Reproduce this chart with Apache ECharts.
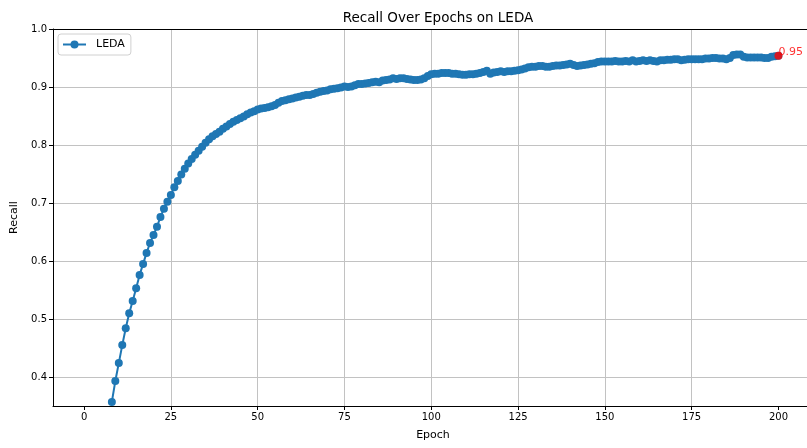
<!DOCTYPE html>
<html>
<head>
<meta charset="utf-8">
<script src="https://cdn.jsdelivr.net/npm/echarts@6/dist/echarts.min.js"></script>
<style>html,body{margin:0;padding:0;background:#fff;overflow:hidden;width:807px;height:448px;}#c{width:813px;height:448px;}</style>
</head>
<body>
<div id="c"></div>
<script>
const firstEpoch = 8;
const recall = [
  0.357,0.393,0.424,0.455,0.484,0.510,0.531,0.553,0.576,0.595,
  0.614,0.631,0.645,0.659,0.676,0.690,0.702,0.714,0.727,0.738,
  0.749,0.759,0.768,0.776,0.783,0.790,0.797,0.804,0.810,0.815,
  0.819,0.823,0.828,0.832,0.836,0.840,0.843,0.846,0.849,0.853,
  0.856,0.858,0.861,0.863,0.864,0.865,0.867,0.869,0.873,0.876,
  0.877,0.879,0.880,0.882,0.883,0.885,0.886,0.886,0.888,0.890,
  0.892,0.893,0.894,0.896,0.897,0.898,0.899,0.901,0.900,0.901,
  0.903,0.905,0.905,0.906,0.907,0.908,0.909,0.908,0.911,0.912,
  0.913,0.915,0.914,0.915,0.915,0.914,0.913,0.912,0.912,0.913,
  0.915,0.919,0.922,0.923,0.923,0.924,0.924,0.924,0.923,0.923,
  0.922,0.921,0.921,0.922,0.922,0.923,0.924,0.926,0.928,0.923,
  0.925,0.926,0.927,0.926,0.927,0.927,0.928,0.929,0.930,0.932,
  0.934,0.935,0.935,0.936,0.936,0.935,0.935,0.936,0.937,0.937,
  0.938,0.939,0.940,0.938,0.936,0.937,0.938,0.939,0.940,0.941,
  0.943,0.944,0.944,0.944,0.944,0.945,0.944,0.944,0.945,0.944,
  0.946,0.944,0.945,0.946,0.945,0.946,0.945,0.944,0.946,0.946,
  0.947,0.947,0.948,0.948,0.946,0.947,0.948,0.948,0.948,0.948,
  0.948,0.949,0.949,0.950,0.950,0.949,0.949,0.948,0.950,0.955,
  0.956,0.956,0.952,0.951,0.951,0.951,0.951,0.951,0.950,0.950,
  0.952,0.953,0.954
];
const xTicks = [0,25,50,75,100,125,150,175,200];
const yTicks = [0.4,0.5,0.6,0.7,0.8,0.9,1.0];
const seriesName = 'LEDA';
const titleText = 'Recall Over Epochs on LEDA';
const finalLabel = '0.95';

const epochs = recall.map((v, i) => firstEpoch + i);
const lineData = recall.map((v, i) => [epochs[i], v]);
const lastPoint = [[epochs[epochs.length - 1], recall[recall.length - 1]]];

const FONT = 'DejaVu Sans';
const chart = echarts.init(document.getElementById('c'), null, {renderer: 'canvas', width: 813, height: 448});
const xMin = -8.95, xMax = 209.95;
const gridColor = '#c2c2c2';
chart.setOption({
  animation: false,
  backgroundColor: '#ffffff',
  title: {
    text: titleText, left: 433, top: 6, textAlign: 'center',
    textStyle: {fontFamily: FONT, fontSize: 13.5, fontWeight: 'normal', color: '#000'}
  },
  legend: {
    data: [seriesName], left: 58, top: 34, padding: [5, 6, 5, 4],
    itemWidth: 23, itemHeight: 10,
    borderColor: '#d0d0d0', borderWidth: 1, borderRadius: 3,
    textStyle: {fontFamily: FONT, fontSize: 11, color: '#000', padding: [0, 0, 0, 5]}
  },
  grid: {left: 53, right: 0, top: 29, bottom: 42, containLabel: false},
  xAxis: [{
    type: 'value', min: xMin, max: xMax,
    name: 'Epoch', nameLocation: 'middle', nameGap: 24,
    nameTextStyle: {fontFamily: FONT, fontSize: 11, color: '#000'},
    axisLine: {show: true, onZero: false, lineStyle: {color: '#000', width: 1}},
    axisTick: {show: true, length: 4, lineStyle: {color: '#000'}, customValues: xTicks},
    axisLabel: {fontFamily: FONT, fontSize: 10, color: '#000', margin: 6, customValues: xTicks},
    splitLine: {show: true, showMinLine: false, showMaxLine: false, lineStyle: {color: gridColor, width: 1}}
  }, {
    type: 'value', position: 'top', min: xMin, max: xMax,
    axisLine: {show: true, onZero: false, lineStyle: {color: '#000', width: 1}},
    axisTick: {show: false}, axisLabel: {show: false}, splitLine: {show: false}
  }],
  yAxis: {
    type: 'value', min: 0.35, max: 1.0,
    name: 'Recall', nameLocation: 'middle', nameGap: 33,
    nameTextStyle: {fontFamily: FONT, fontSize: 11, color: '#000'},
    axisLine: {show: true, onZero: false, lineStyle: {color: '#000', width: 1}},
    axisTick: {show: true, length: 4, lineStyle: {color: '#000'}, customValues: yTicks},
    axisLabel: {fontFamily: FONT, fontSize: 10, color: '#000', margin: 6, customValues: yTicks,
      formatter: v => v.toFixed(1)},
    splitLine: {show: true, lineStyle: {color: gridColor, width: 1}}
  },
  series: [{
    name: seriesName, type: 'line', data: lineData,
    symbol: 'circle', symbolSize: 8, showSymbol: true,
    lineStyle: {color: '#1f77b4', width: 2},
    itemStyle: {color: '#1f77b4'},
    clip: true, z: 3
  }, {
    name: 'final', type: 'scatter', data: lastPoint,
    symbol: 'circle', symbolSize: 8,
    itemStyle: {color: '#ff0000'}, z: 5,
    label: {show: true, formatter: finalLabel, position: 'right', distance: 0, offset: [-4, -4],
      color: '#ff0000', fontFamily: FONT, fontSize: 11}
  }]
});
</script>
</body>
</html>
